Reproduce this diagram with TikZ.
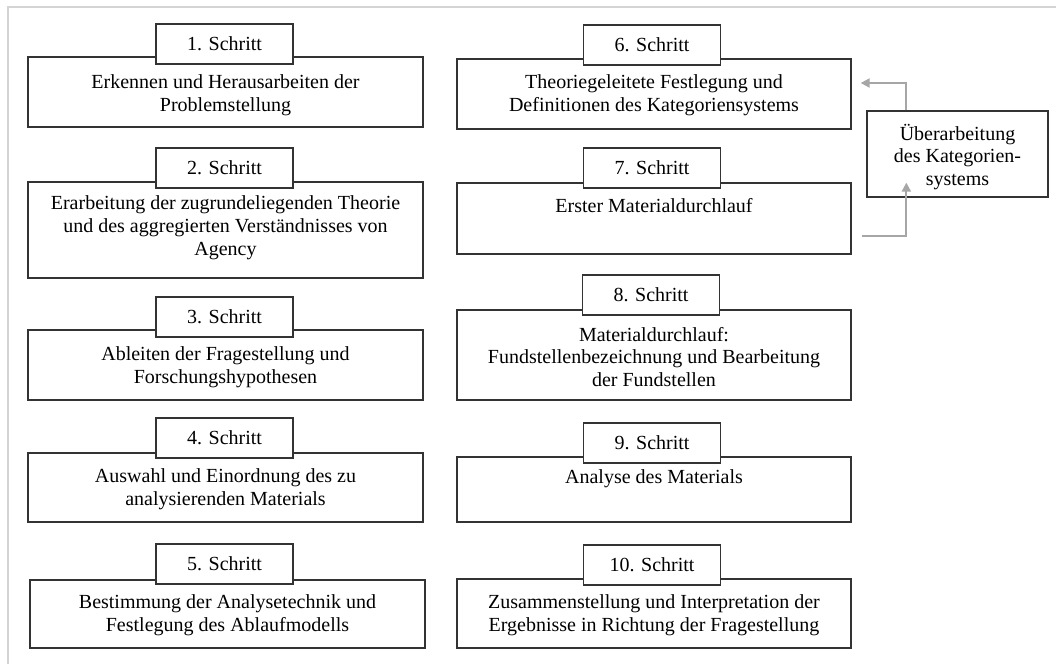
\documentclass[tikz,border=0pt]{standalone}
\usepackage{fontspec}
\setmainfont{Liberation Serif}
\usetikzlibrary{arrows.meta,calc}
\definecolor{framegray}{HTML}{D4D4D4}
\definecolor{arrowgray}{HTML}{A6A6A6}
\definecolor{boxline}{HTML}{333333}
\begin{document}
\begin{tikzpicture}[x=1pt,y=-1pt,
  mainbox/.style={draw=boxline,line width=1.3pt,fill=white,inner sep=0pt},
  labelbox/.style={draw=boxline,line width=1.3pt,fill=white,inner sep=0pt,
    minimum width=137pt,minimum height=40pt,font=\fontsize{20}{23}\selectfont},
  boxtext/.style={inner sep=0pt,align=center,font=\fontsize{20}{22.8}\selectfont},
  loop/.style={draw=arrowgray,line width=2pt,-{Triangle[length=9pt,width=9pt]}}]
\useasboundingbox (0,0) rectangle (1056,664);
\fill[white] (0,0) rectangle (1056,664);
\draw[framegray,line width=2pt] (1056,7) -- (8,7) -- (8,664);

% left column main boxes
\node[mainbox,minimum width=395pt,minimum height=70pt] (m1) at (225.5,92) {};
\node[mainbox,minimum width=395pt,minimum height=96pt] (m2) at (225.5,230) {};
\node[mainbox,minimum width=395pt,minimum height=70pt] (m3) at (225.5,365) {};
\node[mainbox,minimum width=395pt,minimum height=69pt] (m4) at (225.5,487.5) {};
\node[mainbox,minimum width=395pt,minimum height=68pt] (m5) at (227.5,614) {};
% right column main boxes
\node[mainbox,minimum width=394pt,minimum height=70pt] (m6) at (654,94) {};
\node[mainbox,minimum width=394pt,minimum height=71pt] (m7) at (654,218.5) {};
\node[mainbox,minimum width=394pt,minimum height=90pt] (m8) at (654,355) {};
\node[mainbox,minimum width=394pt,minimum height=65pt] (m9) at (654,489.5) {};
\node[mainbox,minimum width=394pt,minimum height=69pt] (m10) at (654,613.5) {};

% labels
\node[labelbox] (l1) at (224.5,44) {1. Schritt};
\node[labelbox] (l2) at (224.5,168) {2. Schritt};
\node[labelbox] (l3) at (224.5,317) {3. Schritt};
\node[labelbox] (l4) at (224.5,438) {4. Schritt};
\node[labelbox] (l5) at (224.5,564) {5. Schritt};
\node[labelbox] (l6) at (652,45) {6. Schritt};
\node[labelbox] (l7) at (652,168) {7. Schritt};
\node[labelbox] (l8) at (651,295) {8. Schritt};
\node[labelbox] (l9) at (652,443) {9. Schritt};
\node[labelbox] (l10) at (652,565) {10. Schritt};

% texts
\node[boxtext] (t1) at (225.5,95) {Erkennen und Herausarbeiten der\\Problemstellung};
\node[boxtext] (t2) at (225.5,228) {Erarbeitung der zugrundeliegenden Theorie\\und des aggregierten Verständnisses von\\Agency};
\node[boxtext] (t3) at (225.5,367) {Ableiten der Fragestellung und\\Forschungshypothesen};
\node[boxtext] (t4) at (225.5,489) {Auswahl und Einordnung des zu\\analysierenden Materials};
\node[boxtext] (t5) at (227.5,615) {Bestimmung der Analysetechnik und\\Festlegung des Ablaufmodells};
\node[boxtext] (t6) at (654,95) {Theoriegeleitete Festlegung und\\Definitionen des Kategoriensystems};
\node[boxtext] (t7) at (654,206) {Erster Materialdurchlauf};
\node[boxtext] (t8) at (654,357) {Materialdurchlauf:\\Fundstellenbezeichnung und Bearbeitung\\der Fundstellen};
\node[boxtext] (t9) at (654,479) {Analyse des Materials};
\node[boxtext] (t10) at (654,615) {Zusammenstellung und Interpretation der\\Ergebnisse in Richtung der Fragestellung};

% side box
\node[mainbox,minimum width=181pt,minimum height=86pt] (side) at (957.5,154) {};
\node[boxtext] (ts) at (957.5,157) {Überarbeitung\\des Kategorien-\\systems};

% loop arrows
\coordinate (upstart) at ([xshift=40pt]side.north west);
\coordinate (upend) at ([xshift=9pt]m6.east |- 0,83);
\coordinate (lowstart) at ([xshift=10pt]m7.east |- 0,236);
\coordinate (lowend) at ([xshift=40pt,yshift=15pt]side.south west);
\draw[loop] (upstart) |- (upend);
\draw[loop] (lowstart) -| (lowend);
\end{tikzpicture}
\end{document}
